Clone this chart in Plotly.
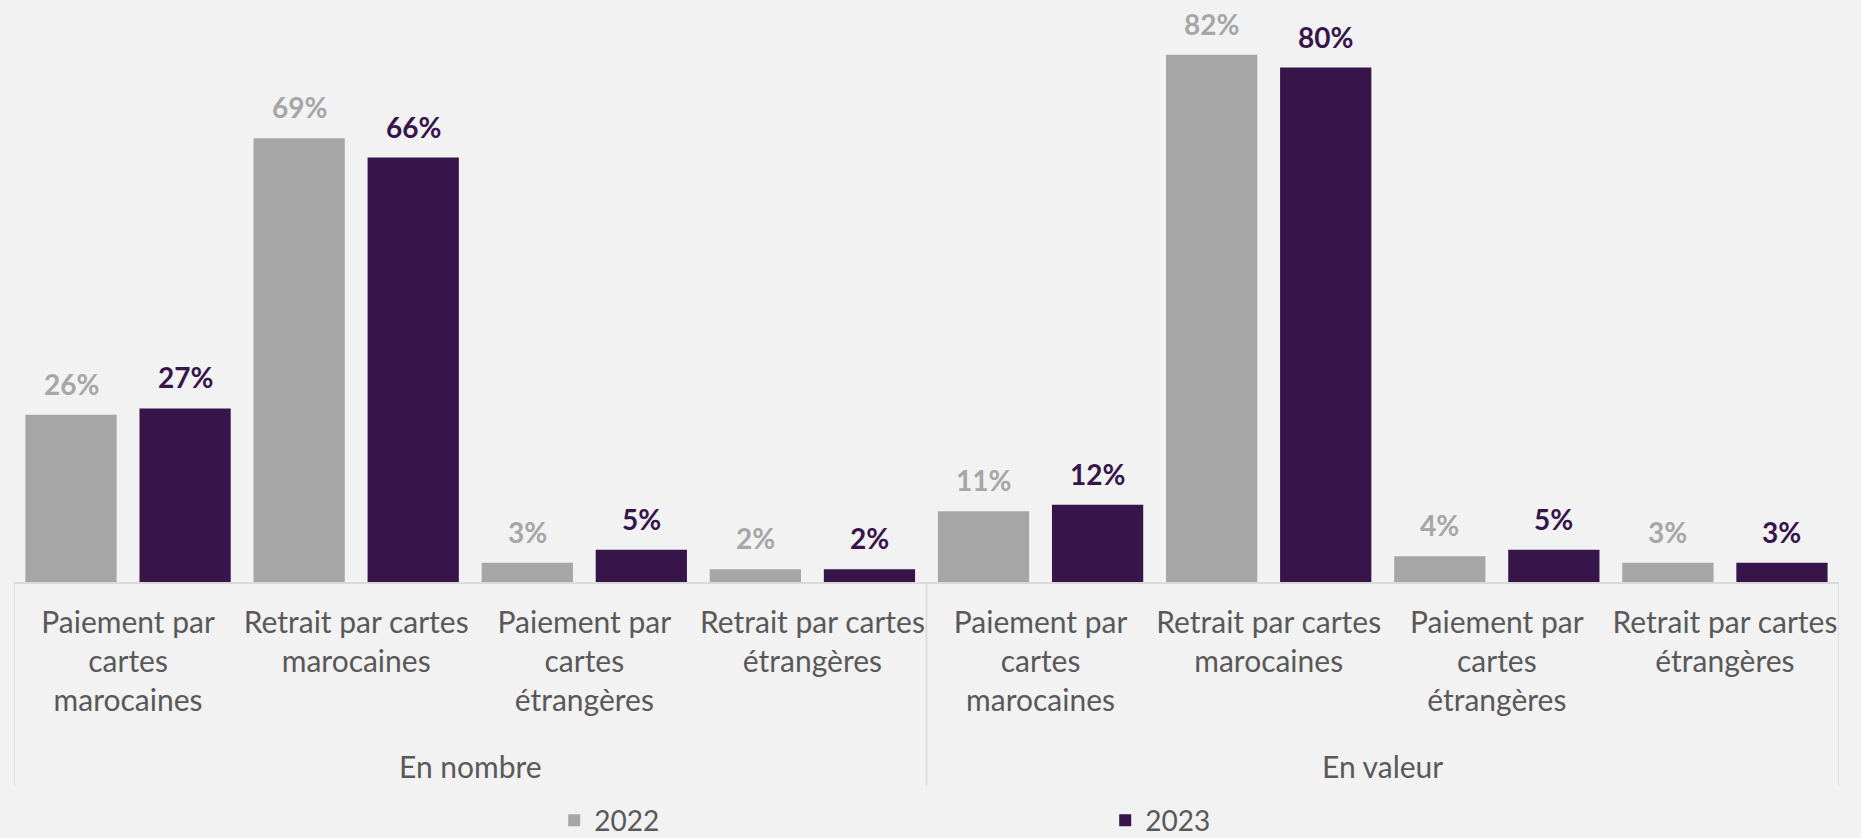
import plotly.graph_objects as go

# ---- data ----
groups = ["En nombre"] * 4 + ["En valeur"] * 4
categories = [
    "Paiement par<br>cartes<br>marocaines",
    "Retrait par cartes<br>marocaines",
    "Paiement par<br>cartes<br>étrangères",
    "Retrait par cartes<br>étrangères",
] * 2
v2022 = [26, 69, 3, 2, 11, 82, 4, 3]
v2023 = [27, 66, 5, 2, 12, 80, 5, 3]
series_names = ["2022", "2023"]

# ---- style ----
BG = "#f2f2f2"
GREY = "#a6a6a6"
PURPLE = "#37154b"
TXT = "#595959"
LINE = "#d9d9d9"
FONT = "Lato"
BARGAP = 0.0
GROUPGAP = 0.2

keys = [g + " | " + c for g, c in zip(groups, categories)]
series = [(series_names[0], v2022, GREY), (series_names[1], v2023, PURPLE)]
n_series = len(series)
slot = (1 - BARGAP) / n_series

fig = go.Figure()
annotations = []
for s, (name, vals, col) in enumerate(series):
    fig.add_trace(go.Bar(
        name=name, x=keys, y=vals,
        marker=dict(color=col, line=dict(width=0)),
        hoverinfo="skip",
    ))
    off = (s - (n_series - 1) / 2) * slot
    for i, v in enumerate(vals):
        annotations.append(dict(
            x=i + off, y=v, xref="x", yref="y",
            text=f"{v}%", showarrow=False,
            yanchor="middle", yshift=31,
            font=dict(family=FONT, size=28, color=col, weight="bold"),
        ))

# group labels and dividers
divider_x = []
unique_groups = list(dict.fromkeys(groups))
for g in unique_groups:
    idx = [i for i, gg in enumerate(groups) if gg == g]
    annotations.append(dict(
        x=(min(idx) + max(idx)) / 2, y=0, xref="x", yref="paper",
        text=g, showarrow=False, yanchor="middle", yshift=-184,
        font=dict(family=FONT, size=30, color=TXT),
    ))
    divider_x.append(min(idx) - 0.5)
divider_x.append(len(groups) - 0.5)
shape_objs = [dict(
    type="line", xref="x", yref="paper", x0=xv, x1=xv,
    ysizemode="pixel", yanchor=0, y0=0, y1=-204,
    line=dict(color=LINE, width=1.5),
) for xv in divider_x]

fig.update_layout(
    width=1861, height=838,
    paper_bgcolor=BG, plot_bgcolor=BG,
    margin=dict(l=14, r=22, t=20, b=256, autoexpand=False),
    barmode="group", bargap=BARGAP, bargroupgap=GROUPGAP,
    showlegend=True,
    legend=dict(
        orientation="h", x=0.296, xanchor="left", y=-0.38, yanchor="top",
        font=dict(family=FONT, size=28, color=TXT),
        entrywidth=506, entrywidthmode="pixels",
        bgcolor="rgba(0,0,0,0)",
    ),
    font=dict(family=FONT, color=TXT),
    annotations=annotations,
    shapes=shape_objs,
)
fig.update_xaxes(
    type="category", range=[-0.5, len(keys) - 0.5],
    tickmode="array", tickvals=keys, ticktext=categories,
    showline=True, linecolor=LINE, linewidth=1.5,
    tickangle=0, ticks="", showgrid=False, automargin=False,
    ticklabelstandoff=13,
    tickfont=dict(family=FONT, size=30, color=TXT),
)
fig.update_yaxes(visible=False, range=[0, 87.4], showgrid=False, zeroline=False)

fig.write_html("out.html", config={"displayModeBar": False},
               post_script="document.body.style.margin='0';")
